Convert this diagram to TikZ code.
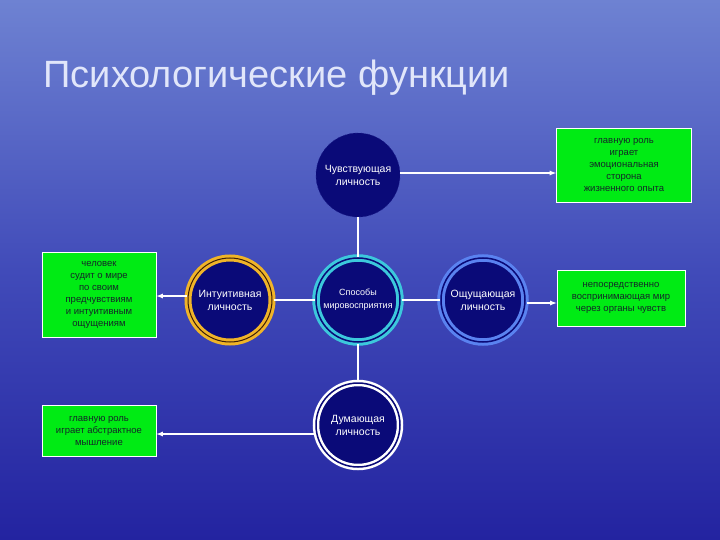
\documentclass[tikz,border=0pt]{standalone}
\usepackage{fontspec}
\setmainfont{Liberation Sans}
\begin{document}
\begin{tikzpicture}[x=1pt,y=-1pt,
  circ/.style={circle,fill={rgb,255:red,10;green,10;blue,120},minimum size=84pt,inner sep=0pt,text=white,font=\fontsize{10.5}{13}\selectfont,align=center},
  gbox/.style={draw=white,fill={rgb,255:red,0;green,235;blue,20},line width=0.8pt,align=center,font=\fontsize{9.5}{12}\selectfont,text={rgb,255:red,20;green,40;blue,40},inner sep=1pt},
  conn/.style={draw=white,line width=1.5pt},
  arr/.style={draw=white,line width=1.2pt,-latex}]
\useasboundingbox (0,0) rectangle (720,540);
\shade[top color={rgb,255:red,110;green,130;blue,210},bottom color={rgb,255:red,35;green,35;blue,160},middle color={rgb,255:red,65;green,75;blue,185}] (0,0) rectangle (720,540);
\node[anchor=west,font=\fontsize{38}{42}\selectfont,text={rgb,255:red,225;green,230;blue,250}] (title) at (40,78) {Психологические функции};
% circles
\node[circ,draw={rgb,255:red,30;green,30;blue,140},dashed] (feel) at (358,175) {Чувствующая\\личность};
\node[circ,draw={rgb,255:red,60;green,200;blue,220},line width=3pt,double={rgb,255:red,10;green,10;blue,120},double distance=1.5pt] (mid) at (358,300) {\fontsize{9}{11}\selectfont Способы\\\fontsize{9}{11}\selectfont мировосприятия};
\node[circ,draw={rgb,255:red,240;green,180;blue,40},line width=3pt,double={rgb,255:red,60;green,30;blue,10},double distance=1pt] (intu) at (230,300) {Интуитивная\\личность};
\node[circ,draw={rgb,255:red,90;green,130;blue,240},line width=3pt,double={rgb,255:red,10;green,10;blue,120},double distance=1.5pt] (sens) at (483,300) {Ощущающая\\личность};
\node[circ,draw=white,line width=2.5pt,double={rgb,255:red,10;green,10;blue,120},double distance=1.5pt] (think) at (358,425) {Думающая\\личность};
% boxes
\node[gbox,minimum width=135pt,minimum height=74pt] (b1) at (624,165) {главную роль\\играет\\эмоциональная\\сторона\\жизненного опыта};
\node[gbox,minimum width=128pt,minimum height=56pt] (b2) at (621,298) {непосредственно\\воспринимающая мир\\через органы чувств};
\node[gbox,minimum width=114pt,minimum height=85pt] (b3) at (99,295) {человек\\судит о мире\\по своим\\предчувствиям\\и интуитивным\\ощущениям};
\node[gbox,minimum width=114pt,minimum height=51pt] (b4) at (99,431) {главную роль\\играет абстрактное\\мышление};
% connectors
\draw[conn] (feel) -- (mid);
\draw[conn] (mid) -- (think);
\draw[conn] (intu) -- (mid);
\draw[conn] (mid) -- (sens);
\draw[arr] (feel.east |- 0,173) -- (b1.west |- 0,173);
\draw[arr] (sens.east |- 0,303) -- (b2.west |- 0,303);
\draw[arr] (intu.west |- 0,296) -- (b3.east |- 0,296);
\draw[arr] (think.west |- 0,434) -- (b4.east |- 0,434);
\end{tikzpicture}
\end{document}
